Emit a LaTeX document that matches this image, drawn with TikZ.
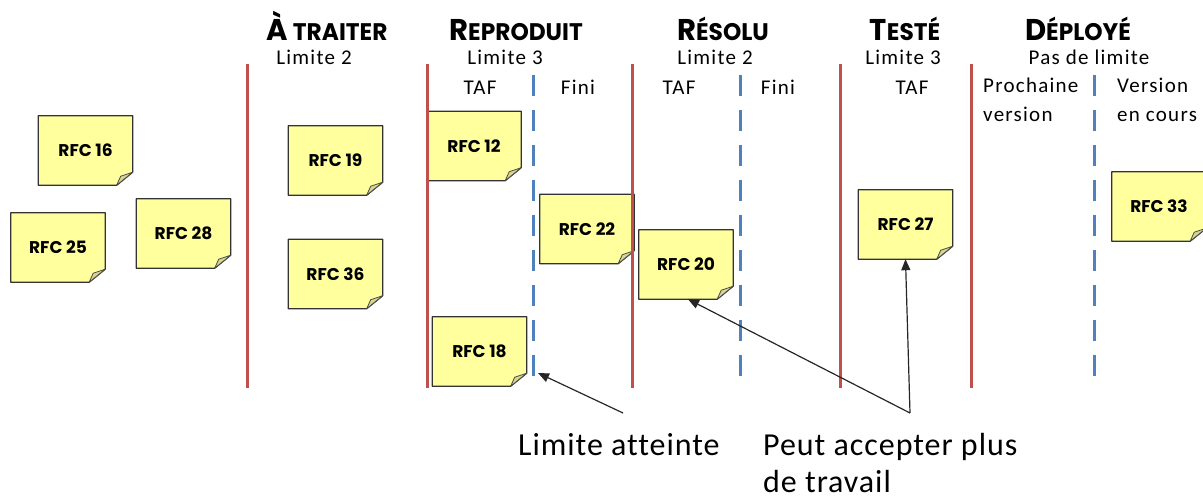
\documentclass[tikz,border=0pt]{standalone}
\usepackage{fontspec}
\usepackage{graphicx}
\setmainfont{Carlito}[Ligatures=NoCommon]
\newfontfamily\headfont{Poppins}
\usetikzlibrary{arrows.meta,backgrounds}

\definecolor{lanered}{HTML}{C0504D}
\definecolor{splitblue}{HTML}{4F81BD}
\definecolor{noteyellow}{HTML}{FFFF9E}
\definecolor{notefold}{HTML}{D8D590}

% column heading in a condensed small-caps look
\newcommand\colhead[2]{\scalebox{0.97}[1]{\headfont\bfseries{\fontsize{30}{30}\selectfont #1}{\fontsize{24}{24}\selectfont #2}}}

\tikzset{
  x=1pt, y=-1pt,
  lane/.style={draw=lanered, line width=3pt},
  split/.style={draw=splitblue, line width=3pt, dash pattern=on 21pt off 14pt},
  note/.style={minimum width=94pt, minimum height=69pt, inner sep=0pt,
    font=\headfont\bfseries\fontsize{17}{17}\selectfont},
  head/.style={anchor=base, inner sep=0pt},
  lbl/.style={anchor=base, inner sep=0pt,
    font=\fontsize{21}{23}\selectfont\addfontfeature{LetterSpace=6}},
  big/.style={inner sep=0pt,
    font=\fontsize{32}{37}\selectfont\addfontfeature{LetterSpace=3}},
  arr/.style={draw=black!85, line width=1.2pt, -{Triangle[length=11pt,width=9pt]}},
  notebody/.style={draw=black!80, line width=1.3pt, fill=noteyellow, line join=round},
  noteflap/.style={draw=black!70, line width=0.8pt, fill=notefold, line join=round},
}

\begin{document}
\begin{tikzpicture}
\clip (0,0) rectangle (1203,502);

% column separators
\foreach \x in {247,427,632,840,971}
  \draw[lane] (\x,64) -- (\x,388);
\foreach \x in {533,740,1094}
  \draw[split] (\x,75) -- (\x,388);

% column headings
\node[head] (hA) at (327,41) {\colhead{À}{ TRAITER}};
\node[head] (hR) at (516,41) {\colhead{R}{EPRODUIT}};
\node[head] (hS) at (723,41) {\colhead{R}{ÉSOLU}};
\node[head] (hT) at (905,41) {\colhead{T}{ESTÉ}};
\node[head] (hD) at (1078,41) {\colhead{D}{ÉPLOYÉ}};

% work-in-progress limits
\node[lbl] (lA) at (314,65) {Limite 2};
\node[lbl] (lR) at (505,65) {Limite 3};
\node[lbl] (lS) at (715,65) {Limite 2};
\node[lbl] (lT) at (903,65) {Limite 3};
\node[lbl] (lD) at (1089,65) {Pas de limite};

% sub-columns
\node[lbl] (sR1) at (480,95) {TAF};
\node[lbl] (sR2) at (578,95) {Fini};
\node[lbl] (sS1) at (679,95) {TAF};
\node[lbl] (sS2) at (778,95) {Fini};
\node[lbl] (sT1) at (912,95) {TAF};
\node[lbl, anchor=base west, align=left] (sD1) at (983,122) {Prochaine\\[6pt]version};
\node[lbl, anchor=base west, align=left] (sD2) at (1117,122) {Version\\[6pt]en cours};

% cards
\node[note] (n16) at (85.5,150.5) {RFC 16};
\node[note] (n25) at (58,247.5)   {RFC 25};
\node[note] (n28) at (183.5,233.5){RFC 28};
\node[note] (n19) at (335.5,160.5){RFC 19};
\node[note] (n36) at (335.5,274)  {RFC 36};
\node[note] (n12) at (474,146)    {RFC 12};
\node[note] (n22) at (587,229)    {RFC 22};
\node[note] (n20) at (686,264.5)  {RFC 20};
\node[note] (n18) at (479.5,351.5){RFC 18};
\node[note] (n27) at (905.5,224.5){RFC 27};
\node[note] (n33) at (1159,206.5) {RFC 33};

% sticky-note bodies with a folded corner
\begin{scope}[on background layer]
\foreach \n in {n16,n25,n28,n19,n36,n12,n22,n20,n18,n27,n33}{
  \filldraw[notebody] (\n.north west) -- (\n.north east)
    -- ([yshift=13pt]\n.south east) -- ([xshift=-16pt]\n.south east)
    -- (\n.south west) -- cycle;
  \filldraw[noteflap] ([yshift=13pt]\n.south east) -- ([xshift=-16pt]\n.south east)
    -- ([xshift=-12pt,yshift=9pt]\n.south east) -- cycle;
}
\end{scope}

% callouts
\node[big, anchor=base west] (t1) at (518,456) {Limite atteinte};
\node[big, anchor=base west, align=left] (t2) at (763,493) {Peut accepter plus\\de travail};

\coordinate (c1) at (623,413);
\coordinate (full) at (538,373);
\coordinate (c2) at (910,413);

\draw[arr] (c1) -- (full);
\draw[arr] (c2) -- (n27.south);
\draw[arr] (c2) -- ([xshift=2pt]n20.south);
\end{tikzpicture}
\end{document}
